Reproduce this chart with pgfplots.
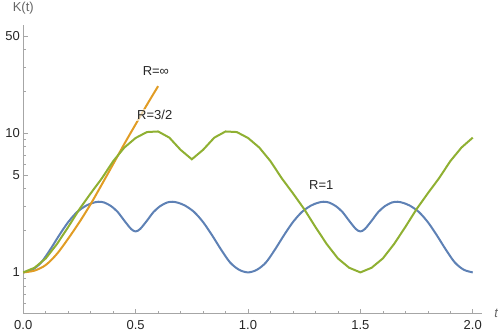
\documentclass[border=0pt]{standalone}
\usepackage{pgfplots}
\pgfplotsset{compat=1.18}
\usepackage{fontspec}
\setmainfont{Liberation Sans}

% Mathematica default plot colours
\definecolor{mblue}{rgb}{0.368417,0.506779,0.709798}
\definecolor{morange}{rgb}{0.880722,0.611041,0.142051}
\definecolor{mgreen}{rgb}{0.560181,0.691569,0.194885}
\definecolor{axgray}{gray}{0.65}

\pgfplotstableread{
t K
0 1.00
0.04 1.045
0.08 1.18
0.12 1.46
0.16 1.85
0.2 2.3
0.24 2.72
0.28 3.02
0.31 3.16
0.335 3.22
0.36 3.18
0.39 3.0
0.42 2.72
0.45 2.35
0.48 2.05
0.5 1.97
0.52 2.05
0.55 2.35
0.58 2.72
0.61 3.0
0.64 3.18
0.665 3.22
0.69 3.16
0.72 3.02
0.76 2.72
0.8 2.3
0.84 1.85
0.88 1.46
0.92 1.18
0.96 1.045
1.0 1.00
1.04 1.045
1.08 1.18
1.12 1.46
1.16 1.85
1.2 2.3
1.24 2.72
1.28 3.02
1.31 3.16
1.335 3.22
1.36 3.18
1.39 3.0
1.42 2.72
1.45 2.35
1.48 2.05
1.5 1.97
1.52 2.05
1.55 2.35
1.58 2.72
1.61 3.0
1.64 3.18
1.665 3.22
1.69 3.16
1.72 3.02
1.76 2.72
1.8 2.3
1.84 1.85
1.88 1.46
1.92 1.18
1.96 1.045
2.0 1.00
}\rone

\pgfplotstableread{
t K
0 1.0
0.05 1.03
0.1 1.13
0.15 1.36
0.2 1.75
0.25 2.3
0.3 3.1
0.35 4.3
0.4 6.0
0.45 8.4
0.5 11.6
0.55 16.0
0.6 21.8
}\rinf

\pgfplotstableread{
t K
0 1.0
0.05 1.08
0.1 1.26
0.15 1.6
0.2 2.12
0.25 2.85
0.3 3.7
0.35 4.75
0.4 6.3
0.45 7.9
0.5 9.25
0.55 10.2
0.6 10.3
0.65 9.3
0.7 7.6
0.75 6.5
0.8 7.6
0.85 9.3
0.9 10.3
0.95 10.2
1.0 9.25
1.05 7.9
1.1 6.3
1.15 4.75
1.2 3.7
1.25 2.85
1.3 2.12
1.35 1.6
1.4 1.26
1.45 1.08
1.5 1.0
1.55 1.08
1.6 1.26
1.65 1.6
1.7 2.12
1.75 2.85
1.8 3.7
1.85 4.75
1.9 6.3
1.95 7.9
2.0 9.3
}\rthree

\begin{document}
\begin{tikzpicture}
\begin{axis}[
  scale only axis,
  width=458.7pt, height=289pt,
  xmin=0, xmax=2.039,
  ymode=log, ymin=0.505, ymax=60,
  axis x line=bottom, axis y line=left,
  axis line style={draw=axgray, line width=0.7pt, -},
  xtick={0,0.5,1,1.5,2},
  xticklabels={0.0,0.5,1.0,1.5,2.0},
  minor xtick={0.1,0.2,0.3,0.4,0.6,0.7,0.8,0.9,1.1,1.2,1.3,1.4,1.6,1.7,1.8,1.9},
  ytick={1,5,10,50},
  yticklabels={1,5,10,50},
  minor ytick={0.6,0.7,0.8,0.9,2,3,4,6,7,8,9,20,30,40},
  tick align=inside,
  major tick length=5pt, minor tick length=3pt,
  tick style={draw=axgray, line width=0.6pt},
  ticklabel style={font=\fontsize{13}{15}\selectfont, text=black!85},
  xticklabel style={yshift=-3pt},
  clip=false,
]
\addplot[mblue, line width=2pt, smooth] table[x=t, y=K] {\rone};
\addplot[morange, line width=2pt, smooth] table[x=t, y=K] {\rinf};
\addplot[mgreen, line width=2pt] table[x=t, y=K] {\rthree};

\node[font=\fontsize{13}{15}\selectfont, text=black!85] at (axis cs:0.59,28.1) {R=∞};
\node[font=\fontsize{13}{15}\selectfont, text=black!85, fill=white, fill opacity=0.65, text opacity=1, inner sep=1pt] at (axis cs:0.585,13.5) {R=3/2};
\node[font=\fontsize{13}{15}\selectfont, text=black!85] at (axis cs:1.326,4.26) {R=1};

\node[font=\fontsize{13}{15}\selectfont, text=black!60, inner sep=0pt] at ([yshift=16.7pt]rel axis cs:0,1) {K(t)};
\node[font=\fontsize{13}{15}\selectfont\itshape, text=black!60, inner sep=0pt] at ([xshift=14.7pt]rel axis cs:1,0) {t};
\end{axis}
\path (current axis.south west) +(-23.3pt,-22pt) (current axis.north east) +(16pt,25pt);
\end{tikzpicture}
\end{document}
